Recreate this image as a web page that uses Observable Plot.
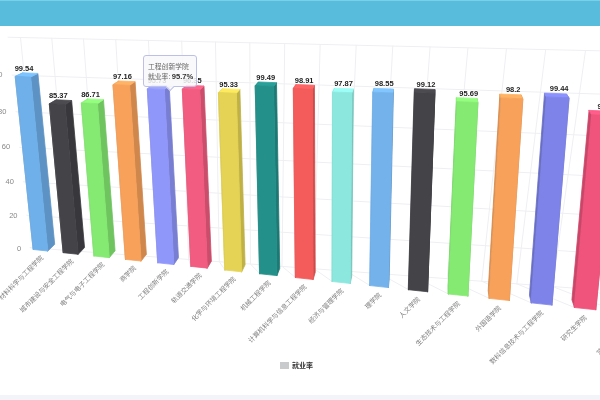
<!DOCTYPE html>
<html lang="zh">
<head>
<meta charset="utf-8">
<script src="https://cdn.jsdelivr.net/npm/d3@7"></script>
<script src="https://cdn.jsdelivr.net/npm/@observablehq/plot@0.6"></script>
<style>
  html, body { margin: 0; padding: 0; background: #fff; width: 600px; height: 400px; overflow: hidden; }
  body { position: relative; font-family: "Noto Sans CJK SC", "Liberation Sans", sans-serif; }
  #banner { height: 26px; background: #58bcdc; border-top: 1px solid #7bd0e9; box-sizing: border-box; }
  #chart { height: 369px; filter: blur(0.45px); }
  #chart svg { display: block; background: transparent; }
  #footer { height: 5px; background: #f3f4f9; }
  #legend { position: absolute; left: 280px; top: 360px; display: flex; align-items: center; gap: 3px;
            font-size: 7px; font-weight: 700; color: #333; line-height: 10px; filter: blur(0.3px); }
  #legend i { display: block; width: 9px; height: 7px; background: #c8cacc; }
  #tip { position: absolute; left: 143px; top: 55px; width: 52px; height: 30px; box-sizing: content-box;
         background: rgba(248,248,250,.86); border: 1px solid #bcc0e6; border-radius: 3px;
         font-size: 6.8px; line-height: 10px; color: #666; padding: 0; filter: blur(0.35px); }
  #tip div { margin-left: 4px; white-space: nowrap; }
  #tip div:first-child { margin-top: 4.5px; }
  #tip b { color: #333; font-family: "Liberation Sans", sans-serif; font-size: 7.6px; }
  #tip::after { content: ""; position: absolute; left: 23px; top: 28px; width: 5px; height: 5px;
                background: rgba(248,248,250,.9); border-right: 1px solid #bcc0e6; border-bottom: 1px solid #bcc0e6;
                transform: rotate(45deg); }
</style>
</head>
<body>
<div id="banner"></div>
<div id="chart"></div>
<div id="footer"></div>
<div id="legend"><i></i><span>就业率</span></div>
<div id="tip"><div>工程创新学院</div><div>就业率: <b>95.7%</b></div></div>
<script>
const categories = ["材料科学与工程学院","城市建设与安全工程学院","电气与电子工程学院","商学院","工程创新学院","轨道交通学院","化学与环境工程学院","机械工程学院","计算机科学与信息工程学院","经济与管理学院","理学院","人文学院","生态技术与工程学院","外国语学院","数科信息技术与工程学院","研究生学院","艺术与设计学院"];
const values = [99.54,85.37,86.71,97.16,95.73,96.35,95.33,99.49,98.91,97.87,98.55,99.12,95.69,98.2,99.44,92.4,97];
const colors = ["#6fb0ea","#434348","#85ea72","#f7a15a","#9097fa","#f15c80","#e4d354","#24908a","#f45b5b","#8ce8de","#74b2ec","#434348","#85ea72","#f7a15a","#7d83e8","#f0547c","#e4d354"];
const yTicks = [0,20,40,60,80,100];
const axisMax = 120;
const gridTop = 120;

// Camera: where the category/value planes land on the page.
const barWidth = 0.48;
const frontPlane = {uMax: 15, vMax: 100, quad: [[33,249],[574,307],[593,97],[15,75]]};
const wallPlane  = {uMax: 16, vMax: 120, quad: [[41,248],[552,286],[585,50],[20,37]]};
const vanishing = [430,-120];
const depthStep = 0.018;
const chartTop = 26;
const WALL = -1;

function homography({uMax, vMax, quad}) {
  const [[x0,y0],[x1,y1],[x2,y2],[x3,y3]] = quad;
  const dx1=x1-x2, dx2=x3-x2, sx=x0-x1+x2-x3, dy1=y1-y2, dy2=y3-y2, sy=y0-y1+y2-y3;
  const den=dx1*dy2-dx2*dy1, g=(sx*dy2-dx2*sy)/den, h=(dx1*sy-sx*dy1)/den;
  const a=x1-x0+g*x1, b=x3-x0+h*x3, d=y1-y0+g*y1, e=y3-y0+h*y3;
  return (u,v) => { const s=u/uMax, t=v/vMax, w=g*s+h*t+1; return [(a*s+b*t+x0)/w, (d*s+e*t+y0)/w]; };
}
const front = homography(frontPlane), wall = homography(wallPlane);

const camera = d3.geoTransform({
  point(u, v, z = 0) {
    let [x, y] = z === WALL ? wall(u, v) : front(u, v);
    if (z > 0) { x += (vanishing[0]-x)*depthStep*z; y += (vanishing[1]-y)*depthStep*z; }
    this.stream.point(x, y - chartTop);
  }
});

const poly = (pts, color) => ({geom: {type: "Polygon", coordinates: [[...pts, pts[0]]]}, color});
const line = (pts) => ({type: "LineString", coordinates: pts});

const faces = values.flatMap((v, k) => {
  const c = colors[k], l = k, r = k + barWidth;
  const side = d3.color(c).darker(0.5).formatHex(), top = d3.color(c).brighter(0.3).formatHex();
  return [
    poly([[r,0,0],[r,0,1],[r,v,1],[r,v,0]], side),
    poly([[l,0,0],[l,0,1],[l,v,1],[l,v,0]], side),
    poly([[l,v,0],[r,v,0],[r,v,1],[l,v,1]], top),
    poly([[l,0,0],[r,0,0],[r,v,0],[l,v,0]], c)
  ];
});

const slots = d3.range(0, categories.length + 1);
const levels = d3.range(0, axisMax + 1, 20);
const grid = [
  ...slots.map(u => line([[u,0,WALL],[u,gridTop,WALL]])),
  ...levels.map(v => line([[-0.4,v,WALL],[categories.length,v,WALL]])),
  ...slots.map(u => line([[u,0,WALL],[u,0,0]]))
];

const bars = categories.map((name, k) => ({name, value: values[k], k}));
const center = d => d.k + barWidth / 2;
const fontCJK = '"Noto Sans CJK SC", sans-serif';
const fontNum = '"Liberation Sans", sans-serif';

const plot = Plot.plot({
  width: 600, height: 369, margin: 0,
  projection: camera,
  color: {type: "identity"},
  style: {background: "transparent"},
  marks: [
    Plot.geo(grid, {stroke: "#efeff3", strokeWidth: 1, fill: "none"}),
    Plot.geo(faces, {geometry: d => d.geom, fill: d => d.color, stroke: d => d.color, strokeWidth: 0.8, strokeLinejoin: "round"}),
    Plot.text(yTicks, {x: () => -0.42, y: d => d, text: d => String(d), textAnchor: "end", fill: "#888", fontSize: 7.5, fontFamily: fontNum}),
    Plot.text(bars, {x: d => center(d) + 0.03, y: d => d.value, text: d => String(d.value), dy: -8.5, fill: "#222", fontSize: 7.5, fontWeight: 700, fontFamily: fontNum, stroke: "#fff", strokeWidth: 1.5}),
    Plot.text(bars, {x: d => center(d) + 0.03, y: () => -4, text: d => d.name, rotate: -45, textAnchor: "end", fill: "#808080", fontSize: 6.6, fontFamily: fontCJK})
  ]
});
document.getElementById("chart").append(plot);
</script>
</body>
</html>
